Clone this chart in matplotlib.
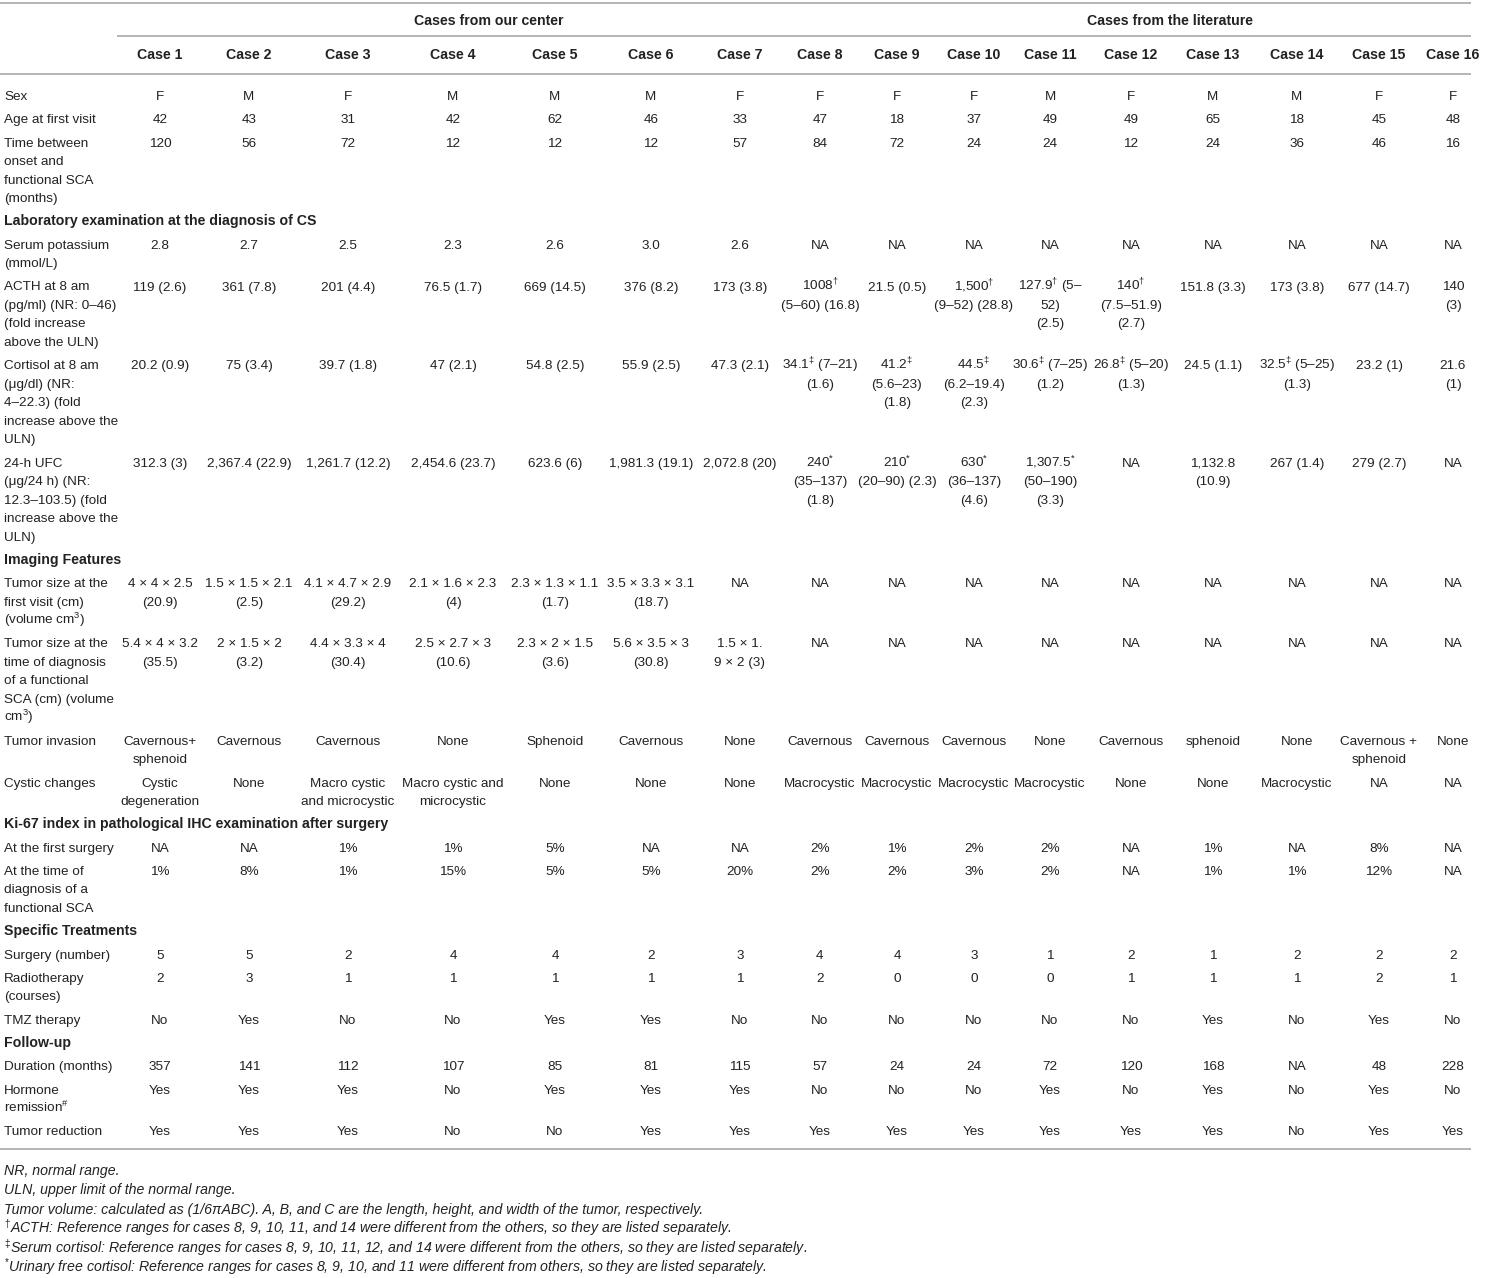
import matplotlib
matplotlib.use("Agg")
import matplotlib.pyplot as plt

plt.rcParams['font.family'] = ['Liberation Sans', 'DejaVu Sans']
plt.rcParams['mathtext.fontset'] = 'custom'
plt.rcParams['mathtext.rm'] = 'Liberation Sans'
plt.rcParams['mathtext.it'] = 'Liberation Sans:italic'
plt.rcParams['mathtext.bf'] = 'Liberation Sans:bold'

W, H = 1486, 1278
FS = 9.7          # points, ~13.5 px at 100 dpi
FS_BOLD = 10.15
FS_NOTE = 10.15
TXT = '#222222'
RULE = '#b4b4b4'

# ---- table content ----
group_labels = ["Cases from our center", "Cases from the literature"]
case_names = ["Case %d" % i for i in range(1, 17)]

D = r"$^{\dagger}$"
DD = r"$^{\ddagger}$"
ST = r"$^{*}$"
NA9 = ["NA"] * 9

sex = ["F", "M", "F", "M", "M", "M", "F", "F", "F", "F", "M", "F", "M", "M", "F", "F"]
age = ["42", "43", "31", "42", "62", "46", "33", "47", "18", "37", "49", "49", "65", "18", "45", "48"]
onset_time = ["120", "56", "72", "12", "12", "12", "57", "84", "72", "24", "24", "12", "24", "36", "46", "16"]
potassium = ["2.8", "2.7", "2.5", "2.3", "2.6", "3.0", "2.6"] + NA9
acth = ["119 (2.6)", "361 (7.8)", "201 (4.4)", "76.5 (1.7)", "669 (14.5)", "376 (8.2)", "173 (3.8)",
        "1008" + D + "\n(5–60) (16.8)", "21.5 (0.5)", "1,500" + D + "\n(9–52) (28.8)",
        "127.9" + D + " (5–\n52)\n(2.5)", "140" + D + "\n(7.5–51.9)\n(2.7)", "151.8 (3.3)",
        "173 (3.8)", "677 (14.7)", "140\n(3)"]
cortisol = ["20.2 (0.9)", "75 (3.4)", "39.7 (1.8)", "47 (2.1)", "54.8 (2.5)", "55.9 (2.5)", "47.3 (2.1)",
            "34.1" + DD + " (7–21)\n(1.6)", "41.2" + DD + "\n(5.6–23)\n(1.8)", "44.5" + DD + "\n(6.2–19.4)\n(2.3)",
            "30.6" + DD + " (7–25)\n(1.2)", "26.8" + DD + " (5–20)\n(1.3)", "24.5 (1.1)",
            "32.5" + DD + " (5–25)\n(1.3)", "23.2 (1)", "21.6\n(1)"]
ufc = ["312.3 (3)", "2,367.4 (22.9)", "1,261.7 (12.2)", "2,454.6 (23.7)", "623.6 (6)", "1,981.3 (19.1)",
       "2,072.8 (20)", "240" + ST + "\n(35–137)\n(1.8)", "210" + ST + "\n(20–90) (2.3)",
       "630" + ST + "\n(36–137)\n(4.6)", "1,307.5" + ST + "\n(50–190)\n(3.3)", "NA", "1,132.8\n(10.9)",
       "267 (1.4)", "279 (2.7)", "NA"]
size_first = ["4 × 4 × 2.5\n(20.9)", "1.5 × 1.5 × 2.1\n(2.5)", "4.1 × 4.7 × 2.9\n(29.2)",
              "2.1 × 1.6 × 2.3\n(4)", "2.3 × 1.3 × 1.1\n(1.7)", "3.5 × 3.3 × 3.1\n(18.7)", "NA"] + NA9
size_diag = ["5.4 × 4 × 3.2\n(35.5)", "2 × 1.5 × 2\n(3.2)", "4.4 × 3.3 × 4\n(30.4)", "2.5 × 2.7 × 3\n(10.6)",
             "2.3 × 2 × 1.5\n(3.6)", "5.6 × 3.5 × 3\n(30.8)", "1.5 × 1.\n9 × 2 (3)"] + NA9
invasion = ["Cavernous+\nsphenoid", "Cavernous", "Cavernous", "None", "Sphenoid", "Cavernous", "None",
            "Cavernous", "Cavernous", "Cavernous", "None", "Cavernous", "sphenoid", "None",
            "Cavernous +\nsphenoid", "None"]
cystic = ["Cystic\ndegeneration", "None", "Macro cystic\nand microcystic", "Macro cystic and\nmicrocystic",
          "None", "None", "None", "Macrocystic", "Macrocystic", "Macrocystic", "Macrocystic", "None",
          "None", "Macrocystic", "NA", "NA"]
ki67_first = ["NA", "NA", "1%", "1%", "5%", "NA", "NA", "2%", "1%", "2%", "2%", "NA", "1%", "NA", "8%", "NA"]
ki67_diag = ["1%", "8%", "1%", "15%", "5%", "5%", "20%", "2%", "2%", "3%", "2%", "NA", "1%", "1%", "12%", "NA"]
surgery = ["5", "5", "2", "4", "4", "2", "3", "4", "4", "3", "1", "2", "1", "2", "2", "2"]
radiotherapy = ["2", "3", "1", "1", "1", "1", "1", "2", "0", "0", "0", "1", "1", "1", "2", "1"]
tmz = ["No", "Yes", "No", "No", "Yes", "Yes", "No", "No", "No", "No", "No", "No", "Yes", "No", "Yes", "No"]
duration = ["357", "141", "112", "107", "85", "81", "115", "57", "24", "24", "72", "120", "168", "NA", "48", "228"]
remission = ["Yes", "Yes", "Yes", "No", "Yes", "Yes", "Yes", "No", "No", "No", "Yes", "No", "Yes", "No", "Yes", "No"]
reduction = ["Yes", "Yes", "Yes", "No", "No", "Yes", "Yes", "Yes", "Yes", "Yes", "Yes", "Yes", "Yes", "No", "Yes", "Yes"]

rows = [
    ("Sex", sex),
    ("Age at first visit", age),
    ("Time between\nonset and\nfunctional SCA\n(months)", onset_time),
    ("Laboratory examination at the diagnosis of CS", None),
    ("Serum potassium\n(mmol/L)", potassium),
    ("ACTH at 8 am\n(pg/ml) (NR: 0–46)\n(fold increase\nabove the ULN)", acth),
    ("Cortisol at 8 am\n(μg/dl) (NR:\n4–22.3) (fold\nincrease above the\nULN)", cortisol),
    ("24-h UFC\n(μg/24 h) (NR:\n12.3–103.5) (fold\nincrease above the\nULN)", ufc),
    ("Imaging Features", None),
    ("Tumor size at the\nfirst visit (cm)\n(volume cm$^{3}$)", size_first),
    ("Tumor size at the\ntime of diagnosis\nof a functional\nSCA (cm) (volume\ncm$^{3}$)", size_diag),
    ("Tumor invasion", invasion),
    ("Cystic changes", cystic),
    ("Ki-67 index in pathological IHC examination after surgery", None),
    ("At the first surgery", ki67_first),
    ("At the time of\ndiagnosis of a\nfunctional SCA", ki67_diag),
    ("Specific Treatments", None),
    ("Surgery (number)", surgery),
    ("Radiotherapy\n(courses)", radiotherapy),
    ("TMZ therapy", tmz),
    ("Follow-up", None),
    ("Duration (months)", duration),
    ("Hormone\nremission$^{\\#}$", remission),
    ("Tumor reduction", reduction),
]

footnotes = [
    "NR, normal range.",
    "ULN, upper limit of the normal range.",
    "Tumor volume: calculated as (1/6πABC). A, B, and C are the length, height, and width of the tumor, respectively.",
    D + "ACTH: Reference ranges for cases 8, 9, 10, 11, and 14 were different from the others, so they are listed separately.",
    DD + "Serum cortisol: Reference ranges for cases 8, 9, 10, 11, 12, and 14 were different from the others, so they are listed separately.",
    ST + "Urinary free cortisol: Reference ranges for cases 8, 9, 10, and 11 were different from others, so they are listed separately.",
]

# ---- layout ----
col_x = [160, 249, 348, 453, 555, 651, 740, 820, 897, 974, 1050, 1131, 1213, 1297, 1379, 1453]
group_x = [489, 1170]
label_x = 4
line_h = 18.5
row_pad = 4.8
base_off = 5


def put(ax, x, y, s, ha='center', size=FS, **kw):
    lines = s.split("\n")
    for i, line in enumerate(lines):
        ax.text(x, y + i * line_h + base_off, line, ha=ha, va='baseline',
                fontsize=size, color=TXT, **kw)
    return len(lines)


fig = plt.figure(figsize=(W / 100, H / 100), dpi=100)
ax = fig.add_axes([0, 0, 1, 1])
ax.set_xlim(0, W)
ax.set_ylim(H, 0)
ax.axis('off')

# rules
ax.plot([0, 1470], [3, 3], color=RULE, lw=1.4)
ax.plot([118, 1470], [36, 36], color=RULE, lw=1.4)
ax.plot([0, 1470], [74, 74], color=RULE, lw=1.4)
ax.plot([0, 1470], [1149, 1149], color=RULE, lw=1.4)

for gx, g in zip(group_x, group_labels):
    put(ax, gx, 20, g, size=FS_BOLD, fontweight='bold')
for cx, c in zip(col_x, case_names):
    put(ax, cx, 54, c, size=FS_BOLD, fontweight='bold')

y = 95
for label, vals in rows:
    if vals is None:
        n = put(ax, label_x, y, label, ha='left', size=FS_BOLD, fontweight='bold')
    else:
        n = put(ax, label_x, y, label, ha='left')
        for cx, v in zip(col_x, vals):
            n = max(n, put(ax, cx, y, v))
    y += n * line_h + row_pad

for i, f in enumerate(footnotes):
    ax.text(label_x, 1170 + i * 19.4 + base_off, f, ha='left', va='baseline',
            fontsize=FS_NOTE, color=TXT, style='italic')

fig.savefig("out.png", dpi=100)
